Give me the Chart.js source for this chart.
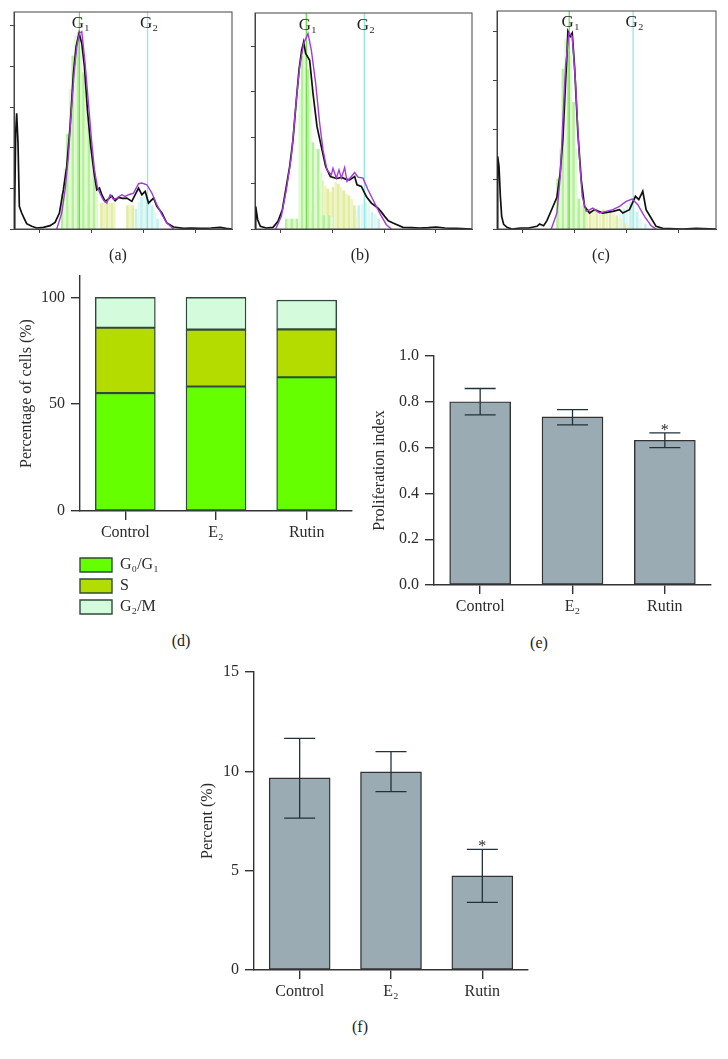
<!DOCTYPE html>
<html>
<head>
<meta charset="utf-8">
<script src="https://cdn.jsdelivr.net/npm/chart.js@4"></script>
<style>
html,body{margin:0;padding:0;background:#fff;width:728px;height:1059px;overflow:hidden}
canvas{position:absolute;display:block}
.cap{position:absolute;font:16px "Liberation Serif",serif;color:#222;transform:translate(-50%,-50%);white-space:nowrap}
</style>
</head>
<body>
<script>
// ---------- Histograms (arbitrary channel / count units) ----------
const blackA = [[0,0],[2,68],[5,288],[8,348],[12,258],[16,68],[23,48],[30,33],[38,16],[53,8],[68,3],[88,5],[108,10],[123,20],[136,48],[148,118],[158,188],[168,308],[178,468],[186,548],[195,588],[203,558],[211,488],[220,358],[230,248],[240,168],[248,118],[256,123],[263,103],[273,83],[283,90],[293,100],[303,85],[313,95],[325,92],[338,93],[353,83],[363,103],[373,123],[383,103],[393,113],[403,78],[418,93],[428,68],[443,48],[458,18],[478,6],[508,2],[530,3],[558,2],[590,3],[618,5],[635,2],[653,0]];
const purpleA = [[128,0],[143,48],[153,118],[163,218],[170,328],[180,468],[188,548],[196,588],[203,593],[213,498],[223,378],[233,258],[241,178],[250,125],[258,106],[268,86],[278,78],[288,103],[298,88],[308,93],[323,103],[333,98],[343,103],[358,108],[373,136],[383,138],[398,133],[413,108],[428,73],[443,43],[458,18],[478,0]];
const blackB = [[0,0],[2,68],[8,28],[16,8],[34,3],[54,5],[69,23],[82,58],[94,128],[104,188],[114,268],[124,388],[132,478],[140,538],[146,563],[152,528],[164,508],[174,408],[186,308],[199,248],[212,188],[226,158],[244,152],[260,155],[272,150],[284,148],[299,158],[306,133],[319,128],[334,98],[349,78],[360,70],[369,63],[380,50],[389,38],[400,25],[414,18],[444,5],[470,4],[494,3],[520,4],[544,6],[570,3],[604,2],[651,0]];
const purpleB = [[62,0],[79,38],[94,118],[109,218],[124,388],[134,488],[146,558],[159,588],[169,538],[182,438],[194,318],[204,238],[216,178],[229,163],[234,183],[244,153],[252,178],[259,153],[269,185],[276,143],[289,158],[299,170],[309,156],[324,153],[339,118],[354,88],[374,48],[394,13],[409,0]];
const blackC = [[0,0],[2,218],[6,188],[10,100],[14,38],[20,14],[30,5],[45,0],[70,3],[95,3],[120,8],[128,15],[140,10],[150,25],[165,60],[180,95],[190,170],[198,270],[205,420],[210,520],[213,593],[220,578],[226,588],[233,488],[243,288],[253,148],[263,68],[278,48],[293,58],[318,48],[348,53],[368,58],[378,48],[398,58],[416,98],[426,88],[438,113],[448,58],[463,33],[478,8],[498,2],[558,0],[598,2],[658,0]];
const purpleC = [[163,0],[180,48],[190,158],[198,328],[206,488],[216,588],[226,578],[236,438],[246,238],[256,98],[268,53],[288,63],[298,55],[308,48],[328,53],[348,58],[368,68],[388,83],[406,90],[423,73],[443,38],[463,10],[478,0]];

const greenStripesA = [[150,105],[158,180],[166,285],[174,420],[182,520],[190,580],[198,590],[206,535],[214,470],[222,400],[230,330],[238,260],[246,175],[254,125]];
const yellowStripesA = [[216,70],[224,75],[232,70],[240,70],[262,78],[270,78],[278,78],[286,78],[294,78],[300,78],[340,70],[348,72],[356,70]];
const cyanStripesA = [[360,60],[368,80],[376,95],[384,100],[392,95],[400,90],[408,70],[416,50],[424,30]];
const greenStripesB = [[100,30],[108,30],[116,30],[124,30],[132,30],[140,420],[148,520],[156,540],[164,480],[172,420],[180,260],[188,240],[196,240],[204,170],[212,40],[220,40],[228,40],[236,35]];
const yellowStripesB = [[170,50],[178,80],[186,100],[194,120],[202,145],[210,130],[218,120],[226,110],[234,125],[242,140],[250,135],[258,125],[266,115],[274,105],[282,100],[290,90],[298,70],[306,35]];
const cyanStripesB = [[285,40],[295,60],[305,70],[315,75],[325,80],[335,70],[345,50],[355,45],[365,30]];
const greenStripesC = [[188,150],[196,240],[204,480],[212,570],[220,560],[228,520],[236,380],[244,240],[252,90],[260,70],[268,65]];
const yellowStripesC = [[240,60],[250,62],[260,60],[270,58],[280,58],[290,60],[300,60],[310,55],[320,58],[330,55],[340,50],[350,45],[360,40],[372,30],[384,15],[396,10]];
const cyanStripesC = [[355,30],[365,45],[375,60],[385,70],[395,80],[405,70],[415,50],[425,30],[440,15]];

const peakA = [196, 400], peakB = [154, 328], peakC = [217, 409];
const phaseLabels = ['G\u2081', 'G\u2082'];

// ---------- Bar panels ----------
const groups = ['Control', 'E\u2082', 'Rutin'];
const phaseNames = ['G\u2080/G\u2081', 'S', 'G\u2082/M'];
const phaseG0G1 = [55.2, 58.3, 62.6];
const phaseS = [30.6, 26.6, 22.4];
const phaseG2M = [14.2, 15.1, 13.7];
const phaseColors = ['#66ff00', '#b5dc00', '#d4fcdc'];
const yTicksD = [0, 50, 100];

const prolif = [0.80, 0.734, 0.632];
const prolifHigh = [0.858, 0.766, 0.664];
const prolifLow = [0.743, 0.699, 0.600];

const percent = [9.67, 9.97, 4.74];
const percentHigh = [11.66, 10.99, 6.07];
const percentLow = [7.64, 8.98, 3.40];

// ---------- helpers ----------
const SERIF = '"Liberation Serif", serif';
const INK = '#2b2b2b';
Chart.defaults.font.family = SERIF;
Chart.defaults.animation = false;
Chart.defaults.responsive = false;
Chart.defaults.devicePixelRatio = 1;

function place(left, top, w, h) {
  const c = document.createElement('canvas');
  c.width = w; c.height = h;
  c.style.left = left + 'px'; c.style.top = top + 'px';
  document.body.appendChild(c);
  return c;
}
function caption(text, x, y) {
  const d = document.createElement('div');
  d.className = 'cap'; d.textContent = text;
  d.style.left = x + 'px'; d.style.top = y + 'px';
  document.body.appendChild(d);
}
const xy = p => ({x: p[0], y: p[1]});

function histogram(rect, w, h, black, purple, green, yellow, cyan, peaks, tickX, tickY, labelY) {
  const L = 6, B = 5, T = 2, R = 2;
  const cv = place(rect.l - L, rect.t - T, rect.r - rect.l + L + R, rect.b - rect.t + T + B);
  const stripes = (data, colors, order) => ({type: 'bar', data: data.map(xy), order,
    barThickness: 2, backgroundColor: data.map((_, i) => colors[i % 2]), borderWidth: 0});
  const vline = (x, color) => ({type: 'line', data: [{x, y: 0}, {x, y: h}], order: 2,
    borderColor: color, borderWidth: 1.3, pointRadius: 0});
  const curve = (data, color, order, lw) => ({type: 'line', data: data.map(xy), order,
    borderColor: color, borderWidth: lw, pointRadius: 0, tension: 0});
  new Chart(cv, {
    type: 'bar',
    data: {datasets: [
      curve(purple, '#a43bd8', 0, 1.4),
      curve(black, '#111', 1, 1.7),
      vline(peaks[0], '#6fe04a'),
      vline(peaks[1], '#93e9e2'),
      stripes(green, ['#b4f29a', '#e0fbd2'], 3),
      stripes(yellow, ['#e2eda0', '#eef4c4'], 4),
      stripes(cyan, ['#c4f2ee', '#e0f9f6'], 5)
    ]},
    options: {
      layout: {padding: {top: T, right: R, left: 0, bottom: 0}},
      plugins: {legend: {display: false}, tooltip: {enabled: false}},
      scales: {
        x: {type: 'linear', offset: false, min: 0, max: w,
            ticks: {display: false, stepSize: tickX, includeBounds: false},
            grid: {drawOnChartArea: false, tickLength: 4, color: '#444', lineWidth: 1},
            border: {color: '#444', width: 1}, afterFit: s => { s.height = B; }},
        xm: {type: 'linear', position: 'bottom', min: 0, max: w,
            ticks: {display: false, stepSize: tickX / 5, includeBounds: false, maxTicksLimit: 100, autoSkip: false},
            grid: {drawOnChartArea: false, tickLength: 2, color: '#555', lineWidth: 1},
            border: {display: false}, afterFit: s => { s.height = 0; }},
        y: {min: 0, max: h,
            ticks: {display: false, stepSize: tickY, includeBounds: false},
            grid: {drawOnChartArea: false, tickLength: 4, color: '#444', lineWidth: 1},
            border: {color: '#444', width: 1}, afterFit: s => { s.width = L; }},
        ym: {position: 'left', min: 0, max: h,
            ticks: {display: false, stepSize: tickY / 5, includeBounds: false, maxTicksLimit: 100, autoSkip: false},
            grid: {drawOnChartArea: false, tickLength: 2, color: '#555', lineWidth: 1},
            border: {display: false}, afterFit: s => { s.width = 0; }}
      }
    },
    plugins: [{
      id: 'boxAndPeaks',
      afterDatasetsDraw(chart) {
        const {ctx, chartArea: a, scales} = chart;
        ctx.save();
        ctx.strokeStyle = '#444'; ctx.lineWidth = 1;
        ctx.strokeRect(a.left, a.top, a.right - a.left, a.bottom - a.top);
        ctx.fillStyle = '#222'; ctx.font = '17px ' + SERIF;
        ctx.textAlign = 'center'; ctx.textBaseline = 'middle';
        phaseLabels.forEach((t, i) => ctx.fillText(t, scales.x.getPixelForValue(peaks[i]) + 1.5, scales.y.getPixelForValue(labelY)));
        ctx.restore();
      }
    }]
  });
}

histogram({l: 14, t: 12, r: 232, b: 229}, 653, 652, blackA, purpleA, greenStripesA, yellowStripesA, cyanStripesA, peakA, 155, 122, 616);
histogram({l: 255, t: 13, r: 472, b: 229}, 651, 650, blackB, purpleB, greenStripesB, yellowStripesB, cyanStripesB, peakB, 155, 137.5, 613);
histogram({l: 497, t: 11, r: 716, b: 229}, 658, 654, blackC, purpleC, greenStripesC, yellowStripesC, cyanStripesC, peakC, 156, 148.5, 618);

function axes(yTitle, yMin, yMax, yCfg, L, B, stacked) {
  return {
    x: {stacked: !!stacked, ticks: {color: INK, font: {size: 16}, padding: 3, autoSkip: false, maxRotation: 0},
        grid: {offset: false, drawOnChartArea: false, tickLength: 9, color: '#333', lineWidth: 1.4},
        border: {color: '#333', width: 1.4}, afterFit: s => { s.height = B; }},
    y: Object.assign({stacked: !!stacked, min: yMin, max: yMax,
        title: {display: true, text: yTitle, color: INK, font: {size: 16}, padding: 0},
        grid: {drawOnChartArea: false, tickLength: 9, color: '#333', lineWidth: 1.4},
        border: {color: '#333', width: 1.4}, afterFit: s => { s.width = L; }}, yCfg)
  };
}

function errorPlugin(high, low, star) {
  return {
    id: 'errors',
    afterDatasetsDraw(chart) {
      const {ctx, scales} = chart;
      ctx.save();
      ctx.strokeStyle = '#23323a'; ctx.lineWidth = 1.3;
      high.forEach((hv, i) => {
        const x = scales.x.getPixelForValue(i);
        const yh = scales.y.getPixelForValue(hv), yl = scales.y.getPixelForValue(low[i]);
        ctx.beginPath();
        ctx.moveTo(x, yh); ctx.lineTo(x, yl);
        ctx.moveTo(x - 15.5, yh); ctx.lineTo(x + 15.5, yh);
        ctx.moveTo(x - 15.5, yl); ctx.lineTo(x + 15.5, yl);
        ctx.stroke();
      });
      ctx.fillStyle = INK; ctx.font = '16px ' + SERIF;
      ctx.textAlign = 'center'; ctx.textBaseline = 'alphabetic';
      ctx.fillText('*', scales.x.getPixelForValue(star), scales.y.getPixelForValue(high[star]) + 2);
      ctx.restore();
    }
  };
}

// ---------- (d) stacked ----------
(function () {
  const L = 63, B = 40, T = 20, R = 4, l = 80, t = 276, r = 352, b = 511;
  const series = [phaseG0G1, phaseS, phaseG2M];
  new Chart(place(l - L, t - T, r - l + L + R, b - t + T + B), {
    type: 'bar',
    data: {labels: groups, datasets: series.map((data, i) => ({label: phaseNames[i], data,
      backgroundColor: phaseColors[i], borderColor: '#2f4a3c', borderWidth: 1.4, borderSkipped: false, barThickness: 60}))},
    options: {
      layout: {padding: {top: T, right: R, left: 0, bottom: 0}},
      plugins: {legend: {display: false}, tooltip: {enabled: false}},
      scales: axes('Percentage of cells (%)', 0, 110, {
        afterBuildTicks: s => { s.ticks = yTicksD.map(value => ({value})); },
        ticks: {color: INK, font: {size: 16}, padding: 6, includeBounds: false}
      }, L, B, true)
    }
  });
  // legend of (d): a chart of its own that shows only the library's legend
  new Chart(place(75, 552, 260, 80), {
    type: 'bar',
    data: {labels: [], datasets: phaseNames.map((label, i) => ({label, data: [],
      backgroundColor: phaseColors[i], borderColor: '#2f4a3c', borderWidth: 1.4}))},
    options: {
      scales: {x: {display: false}, y: {display: false}},
      layout: {padding: 0},
      plugins: {tooltip: {enabled: false},
        legend: {display: true, position: 'left', align: 'start',
          labels: {boxWidth: 32, boxHeight: 14, padding: 5, color: INK, font: {size: 16, family: SERIF}}}}
    }
  });
})();

// ---------- (e) ----------
(function () {
  const L = 64, B = 35, T = 20, R = 6, l = 434, t = 356, r = 711, b = 585;
  new Chart(place(l - L, t - T, r - l + L + R, b - t + T + B), {
    type: 'bar',
    data: {labels: groups, datasets: [{label: 'Proliferation index', data: prolif,
      backgroundColor: '#9aabb3', borderColor: '#333', borderWidth: 1.4, borderSkipped: false, barThickness: 61}]},
    options: {
      layout: {padding: {top: T, right: R, left: 0, bottom: 0}},
      plugins: {legend: {display: false}, tooltip: {enabled: false}},
      scales: axes('Proliferation index', 0, 1, {
        ticks: {color: INK, font: {size: 16}, padding: 6, stepSize: 0.2, callback: v => v.toFixed(1)}
      }, L, B, false)
    },
    plugins: [errorPlugin(prolifHigh, prolifLow, 2)]
  });
})();

// ---------- (f) ----------
(function () {
  const L = 56, B = 35, T = 20, R = 6, l = 254, t = 672, r = 528, b = 970;
  new Chart(place(l - L, t - T, r - l + L + R, b - t + T + B), {
    type: 'bar',
    data: {labels: groups, datasets: [{label: 'Percent (%)', data: percent,
      backgroundColor: '#9aabb3', borderColor: '#333', borderWidth: 1.4, borderSkipped: false, barThickness: 61}]},
    options: {
      layout: {padding: {top: T, right: R, left: 0, bottom: 0}},
      plugins: {legend: {display: false}, tooltip: {enabled: false}},
      scales: axes('Percent (%)', 0, 15, {
        ticks: {color: INK, font: {size: 16}, padding: 6, stepSize: 5}
      }, L, B, false)
    },
    plugins: [errorPlugin(percentHigh, percentLow, 2)]
  });
})();

caption('(a)', 118, 255);
caption('(b)', 360, 255);
caption('(c)', 601, 255);
caption('(d)', 181, 641);
caption('(e)', 539, 643);
caption('(f)', 360, 1027);
</script>
</body>
</html>
